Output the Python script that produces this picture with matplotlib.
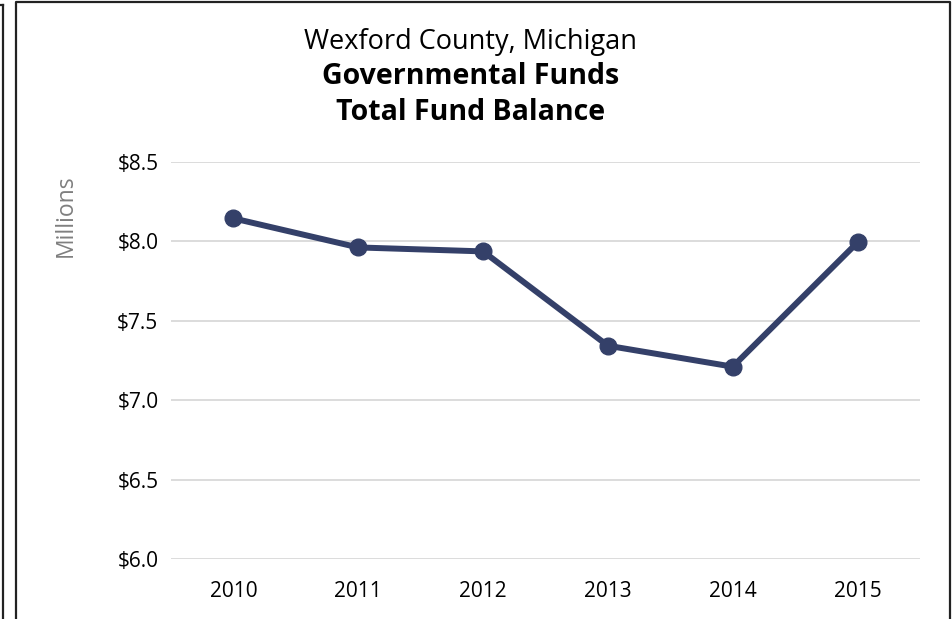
import matplotlib
matplotlib.use("Agg")
import matplotlib.pyplot as plt
from matplotlib.lines import Line2D

years = ["2010", "2011", "2012", "2013", "2014", "2015"]
balance = [8.145, 7.962, 7.937, 7.343, 7.211, 7.994]  # millions
yticks = [6.0, 6.5, 7.0, 7.5, 8.0, 8.5]

plt.rcParams['font.family'] = ['Open Sans', 'DejaVu Sans']

fig = plt.figure(figsize=(9.52, 6.19), dpi=100)
ax = fig.add_axes([171/952, 1 - 559/619, (920-171)/952, (559-162)/619])

x = range(len(years))
ax.plot(x, balance, color='#344069', lw=4.3, marker='o', markersize=12,
        solid_capstyle='round', zorder=3)

ax.set_xlim(-0.5, len(years) - 0.5)
ax.set_ylim(6.0, 8.5)
ax.set_xticks(list(x))
ax.set_xticklabels(years, fontsize=15)
ax.set_yticks(yticks)
ax.set_yticklabels(['$%.1f' % v for v in yticks], fontsize=15)
ax.tick_params(length=0, pad=9)
ax.tick_params(axis='x', pad=16)
ax.grid(axis='y', color='#d9d9d9', lw=1.3)
ax.set_axisbelow(True)
for s in ax.spines.values():
    s.set_visible(False)

fig.text(66/952, 1 - 216/619, 'Millions', rotation=90, ha='center', va='center',
         fontsize=16.5, color='#7f7f7f')

fig.text(471/952, 1 - 42/619, 'Wexford County, Michigan', ha='center', va='center', fontsize=19.5)
fig.text(471/952, 1 - 77/619, 'Governmental Funds', ha='center', va='center', fontsize=20.5, weight='bold')
fig.text(471/952, 1 - 113/619, 'Total Fund Balance', ha='center', va='center', fontsize=20.5, weight='bold')

# outer frames
def fl(xs, ys):
    fig.add_artist(Line2D([v/952 for v in xs], [1 - v/619 for v in ys],
                          color='#222222', lw=1.6, transform=fig.transFigure))

fl([3, 3], [5, 619])
fl([0, 3], [5, 5])
fl([16, 16, 950, 950], [619, 2, 2, 619])

fig.savefig('out.png', dpi=100)
